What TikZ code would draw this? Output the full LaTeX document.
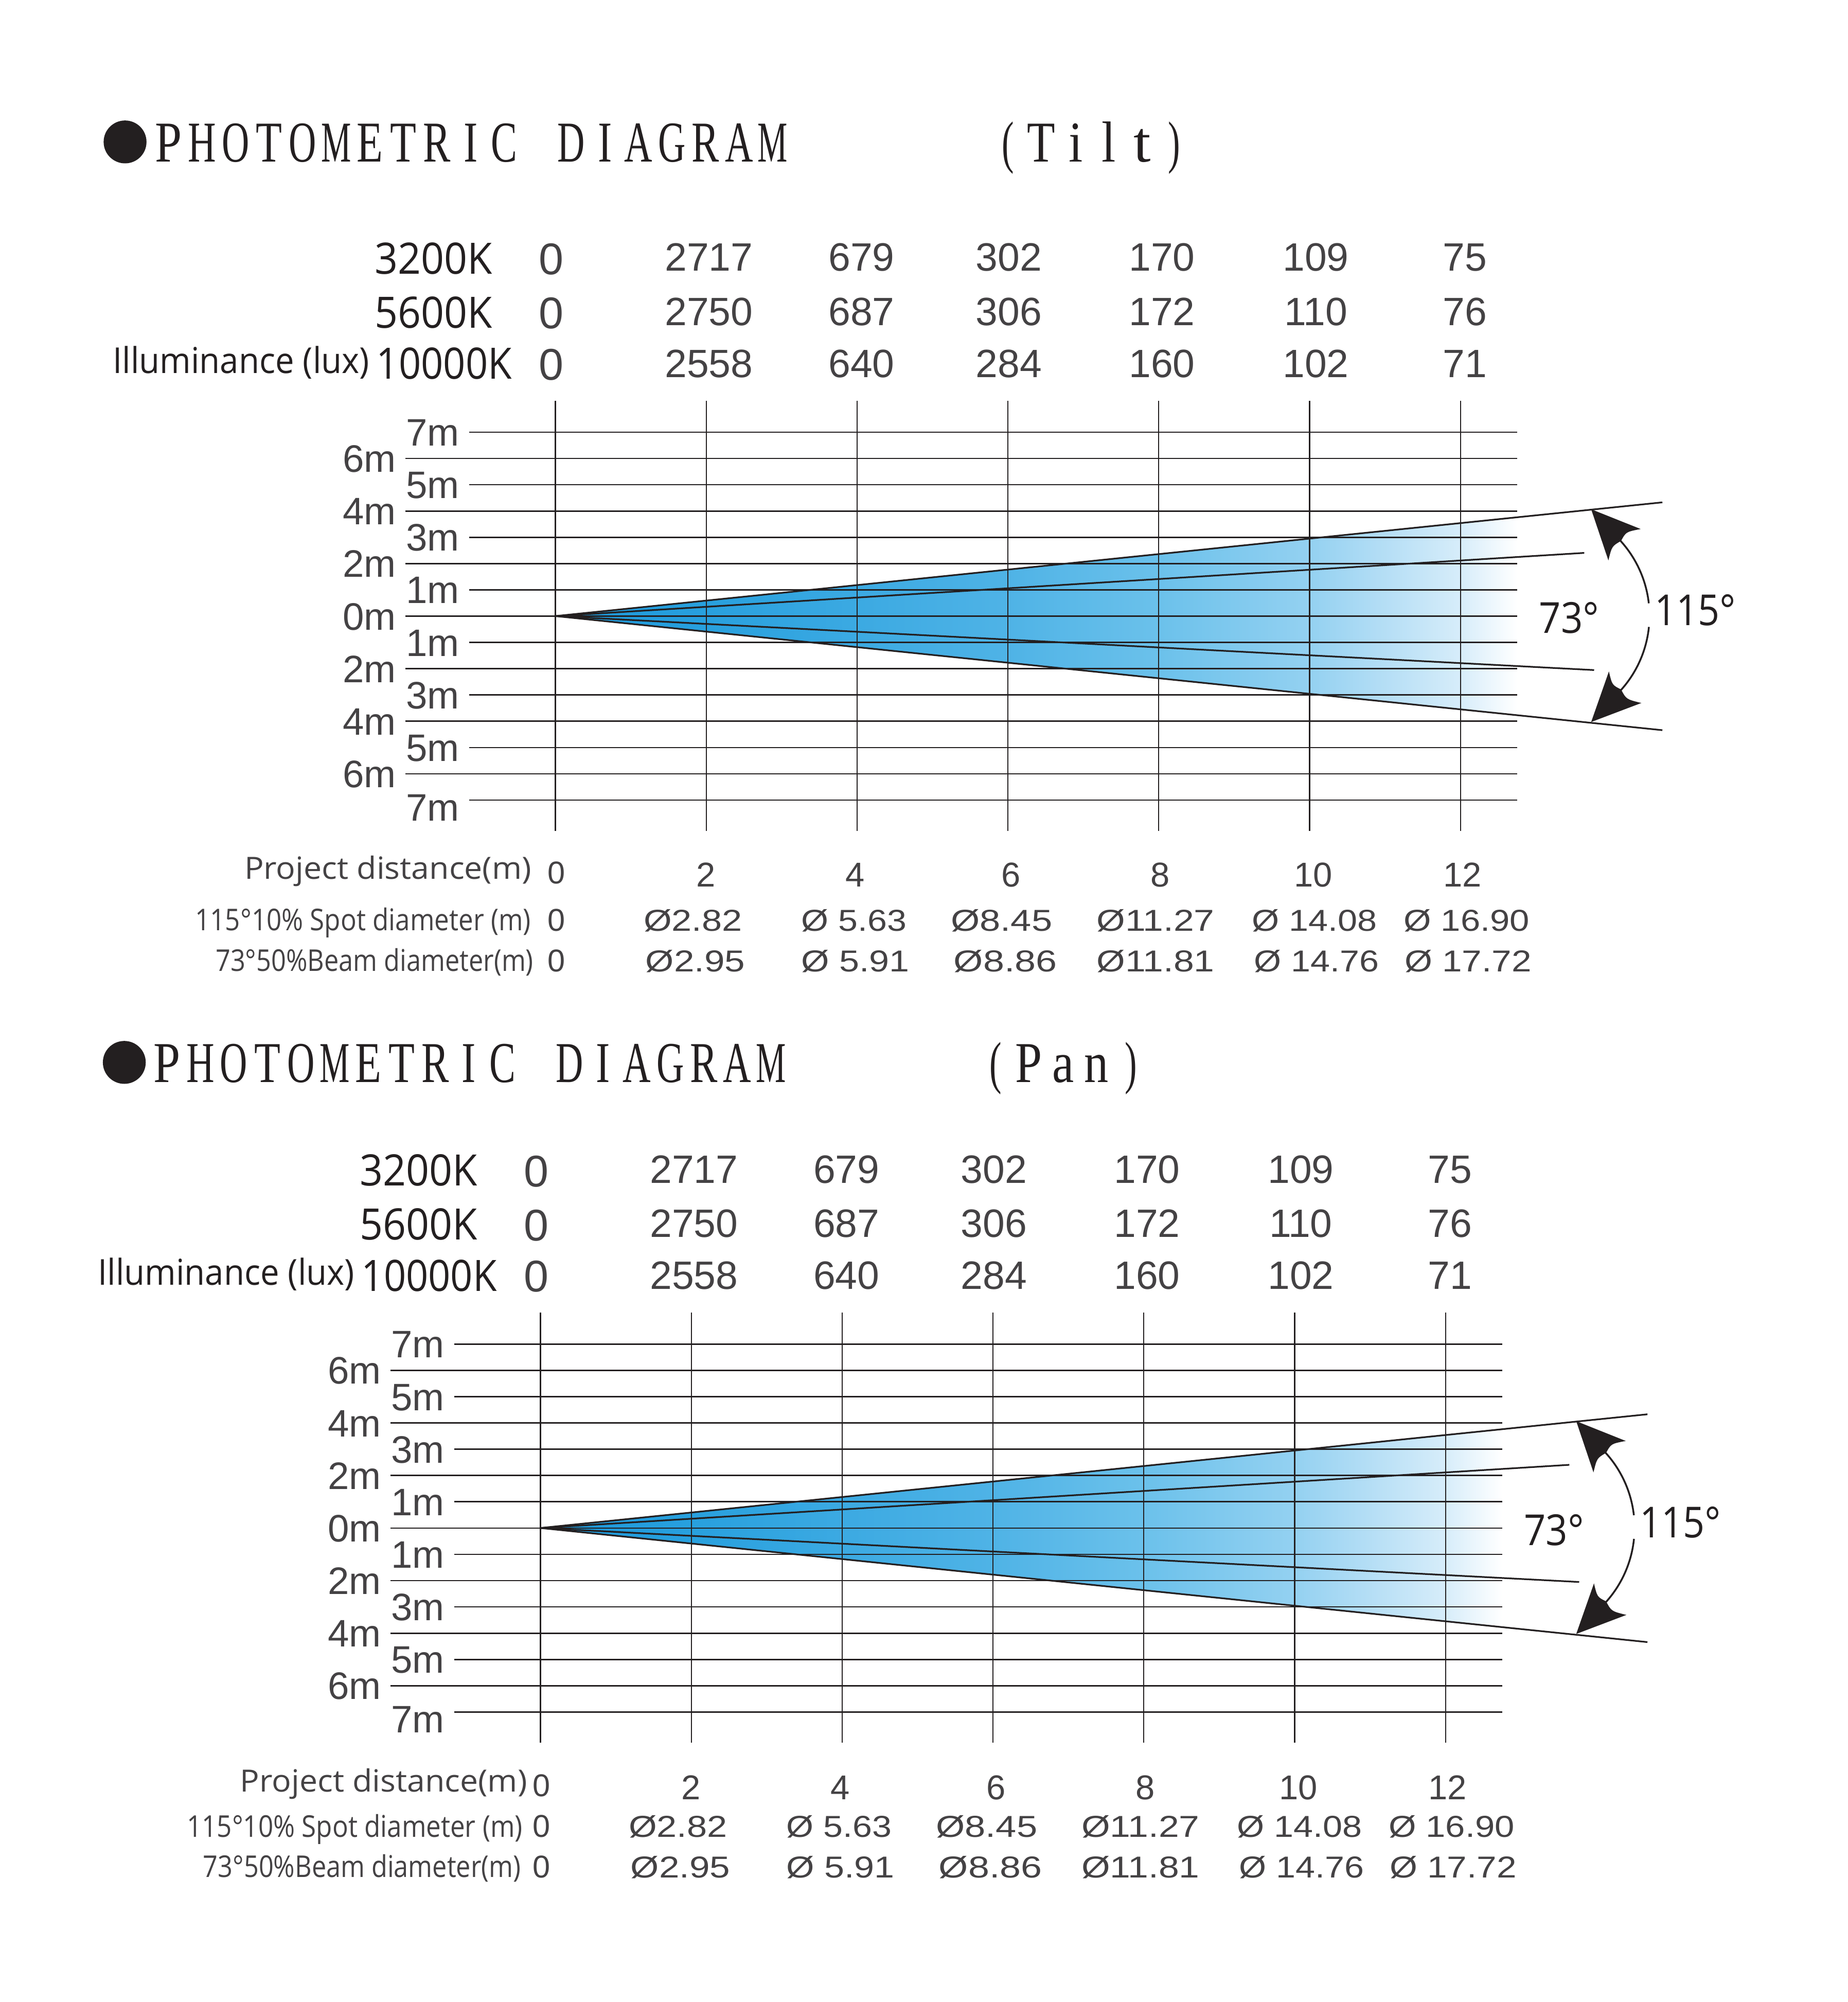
\documentclass[tikz,border=0pt]{standalone}
\usepackage{fontspec}
\usepackage{graphicx}
\setmainfont{Liberation Serif}
\newfontfamily\arialf{Liberation Sans}
\newfontfamily\opensf{Open Sans}
\definecolor{ink}{HTML}{231F20}
\definecolor{gtxt}{HTML}{444244}
\definecolor{bA}{HTML}{1B98DA}
\definecolor{bB}{HTML}{28A0DE}
\definecolor{bC}{HTML}{4FB3E6}
\definecolor{bD}{HTML}{6BC1EB}
\definecolor{bE}{HTML}{94D1F1}
\definecolor{bF}{HTML}{B2DDF5}
\definecolor{bG}{HTML}{D7EDFA}
\pgfdeclarehorizontalshading{beamshade}{100bp}{color(0bp)=(bA); color(25bp)=(bA); color(32.84bp)=(bB); color(48.54bp)=(bC); color(56.37bp)=(bD); color(64.26bp)=(bE); color(67.78bp)=(bF); color(72.09bp)=(bG); color(75bp)=(white); color(100bp)=(white)}
\newcommand\fw[3]{\resizebox{#1pt}{\height}{\fontsize{#2pt}{#2pt}\selectfont #3}}
\tikzset{
  lbl/.style={inner sep=0pt, outer sep=0pt, anchor=base west},
  mlab/.style={inner sep=0pt, outer sep=0pt, anchor=base east, text=gtxt, font=\arialf\fontsize{30pt}{30pt}\selectfont},
  num/.style={inner sep=0pt, outer sep=0pt, anchor=base, text=gtxt, font=\arialf\fontsize{31pt}{31pt}\selectfont},
  zero/.style={inner sep=0pt, outer sep=0pt, anchor=base, text=gtxt, font=\arialf\fontsize{34.8pt}{34.8pt}\selectfont},
  dnum/.style={inner sep=0pt, outer sep=0pt, anchor=base, text=gtxt, font=\arialf\fontsize{27pt}{27pt}\selectfont},
  szero/.style={inner sep=0pt, outer sep=0pt, anchor=base, text=gtxt, font=\arialf\fontsize{24.7pt}{24.7pt}\selectfont},
  tch/.style={inner sep=0pt, outer sep=0pt, anchor=base, text=ink, font=\fontsize{45.3pt}{45.3pt}\selectfont},
  hline/.style={draw=ink, line width=1.1pt},
  vline/.style={draw=ink, line width=0.9pt},
  beamline/.style={draw=ink, line width=1.3pt},
  arcline/.style={draw=ink, line width=1.4pt},
}
\newcommand\tcw[2]{\resizebox{#1pt}{\height}{#2}}
\newcommand\photoblock[3]{%
\begin{scope}[shift={(#1,#2)}]
  % beam fill
  \coordinate (#3-apex) at (435.2,482.7);
  \coordinate (#3-fu) at (1188.8,405.3);
  \coordinate (#3-fl) at (1188.8,560.4);
  \shade[shading=beamshade] (#3-apex) -- (#3-fu) -- (#3-fl) -- cycle;
  % grid
  \foreach \k in {0,2,...,14} \draw[hline] (367.5,338.6+20.593*\k) -- (1188.8,338.6+20.593*\k);
  \foreach \k in {1,3,...,13} \draw[hline] (317.5,338.6+20.593*\k) -- (1188.8,338.6+20.593*\k);
  \foreach \j in {0,...,6} \draw[vline] (435.2+118.2*\j,314) -- (435.2+118.2*\j,651);
  % axis labels
  \foreach \k/\t in {0/7,2/5,4/3,6/1,8/1,10/3,12/5} \node[mlab] (#3-in\k) at (359.9,338.6+20.593*\k+10.7) {\t m};
  \node[mlab] (#3-in14) at (359.9,626.9+5.5+10.7) {7m};
  \foreach \k/\t in {1/6,3/4,5/2,7/0,9/2,11/4,13/6} \node[mlab] (#3-out\k) at (310.2,338.6+20.593*\k+10.7) {\t m};
  % beam lines
  \coordinate (#3-ou) at (1302.6,393.6);
  \coordinate (#3-ol) at (1302.6,572.1);
  \coordinate (#3-iu) at (1241.4,433.2);
  \coordinate (#3-il) at (1249.1,525.0);
  \draw[beamline] (#3-apex) -- (#3-ou);
  \draw[beamline] (#3-apex) -- (#3-ol);
  \draw[beamline] (#3-apex) -- (#3-iu);
  \draw[beamline] (#3-apex) -- (#3-il);
  % angle arcs with arrowheads
  \coordinate (#3-ac) at (1205.4,482.4);
  \draw[arcline] ([shift={(-43:87.1)}]#3-ac) arc[start angle=-43, end angle=-6.4, radius=87.1];
  \draw[arcline] ([shift={(5.8:87.1)}]#3-ac) arc[start angle=5.8, end angle=43, radius=87.1];
  \fill[ink] (1246.8,399.0) -- (1285.6,414.5) .. controls (1274.1,416.7) .. (1270.2,423.8) .. controls (1263.0,428.0) .. (1260.3,439.1) -- cycle;
  \fill[ink] (1246.8,565.7) -- (1286.1,550.8) .. controls (1274.3,547.9) .. (1270.2,540.2) .. controls (1263.2,536.7) .. (1260.7,526.1) -- cycle;
  \node[lbl, text=ink] (#3-a73) at (1206,496.2) {\fw{47}{33.5}{\opensf 73°}};
  \node[lbl, text=ink] (#3-a115) at (1296.5,490.1) {\fw{63.5}{33.5}{\opensf 115°}};
  % illuminance table
  \node[lbl, text=ink] (#3-k32) at (293.5,214.5) {\fw{92}{33.9}{\opensf 3200K}};
  \node[lbl, text=ink] (#3-k56) at (293.5,256.8) {\fw{92}{33.9}{\opensf 5600K}};
  \node[lbl, text=ink] (#3-k100) at (295,297) {\fw{106}{33.9}{\opensf 10000K}};
  \node[lbl, text=ink] (#3-illu) at (88.5,292.3) {\fw{201}{28}{\opensf Illuminance (lux)}};
  \node[zero] (#3-z1) at (432,215.2) {0};
  \node[zero] (#3-z2) at (432,257.5) {0};
  \node[zero] (#3-z3) at (432,297.6) {0};
  \foreach \x/\a/\b/\c [count=\i] in {555.5/2717/2750/2558, 675/679/687/640, 790.5/302/306/284, 910.5/170/172/160, 1031/109/110/102, 1148/75/76/71} {
    \node[num] (#3-r1c\i) at (\x,212.3) {\a};
    \node[num] (#3-r2c\i) at (\x,254.8) {\b};
    \node[num] (#3-r3c\i) at (\x,295.5) {\c};
  }
\end{scope}}
\newcommand\bottomrows[8]{%
\begin{scope}[shift={(#1,#2)}]
  \node[lbl, text=gtxt] (#5-pd) at (#6,688.6) {\fw{225}{24}{\opensf Project distance(m)}};
  \node[szero] (#5-pd0) at (436.1,692.2) {0};
  \foreach \x/\t in {553/2, 670.2/4, 792.1/6, 909.3/8, 1028.9/10, 1146/12} \node[dnum] (#5-d\t) at (\x,694.6) {\t};
\end{scope}
\begin{scope}[shift={(#1,#3)}]
  \node[lbl, text=gtxt] (#5-sl) at (#7,729.2) {\fw{263}{23.5}{\opensf 115°10\% Spot diameter (m)}};
  \node[szero] (#5-s0) at (436.1,729.4) {0};
  \foreach \x/\w/\t [count=\i] in {504.4/77.2/Ø2.82, 627.9/82.4/Ø 5.63, 745.1/79.4/Ø8.45, 859.2/92.5/Ø11.27, 981/98/Ø 14.08, 1099.8/98.7/Ø 16.90}
    \node[lbl, text=gtxt] (#5-sv\i) at (\x,729.4) {\fw{\w}{23.7}{\arialf \t}};
\end{scope}
\begin{scope}[shift={(#1,#4)}]
  \node[lbl, text=gtxt] (#5-bl) at (#8,761) {\fw{249}{23.5}{\opensf 73°50\%Beam diameter(m)}};
  \node[szero] (#5-b0) at (436.1,761.4) {0};
  \foreach \x/\w/\t [count=\i] in {505.9/78/Ø2.95, 627.9/84.8/Ø 5.91, 747.4/80.9/Ø8.86, 859.2/92.5/Ø11.81, 982.6/97.9/Ø 14.76, 1100.6/99.4/Ø 17.72}
    \node[lbl, text=gtxt] (#5-bv\i) at (\x,761.4) {\fw{\w}{23.7}{\arialf \t}};
\end{scope}}
% title: monospaced serif capitals on a fixed pitch
\newcommand\titlerow[3]{% #1 first centre x, #2 baseline, #3 prefix
  \foreach \c/\w [count=\i from 0] in {P/21,H/22,O/21.5,T/20.5,O/21.5,M/23.5,E/20.5,T/20.5,R/21.5,I/11,C/20.5}
    \node[tch] (#3\i) at (#1+26.3*\i,#2) {\tcw{\w}{\c}};
  \foreach \c/\w [count=\i from 12] in {D/21.5,I/11,A/22,G/21.5,R/21.5,A/22,M/23.5}
    \node[tch] (#3\i) at (#1+26.3*\i,#2) {\tcw{\w}{\c}};
}
\begin{document}
\begin{tikzpicture}[x=1pt,y=-1pt]
\fill[white] (0,0) rectangle (1448,1568.6);
\useasboundingbox (0,0) rectangle (1448,1568.6);
% ---- Tilt title ----
\fill[ink] (98,111.2) circle[radius=16.8];
\titlerow{132.05}{126.6}{tt}
\foreach \x/\c/\w [count=\i] in {790/(/9.5, 816/T/22, 843/i/11, 869/l/11, 895/t/13.5, 920/)/9.5} \node[tch] (ts\i) at (\x,126.6) {\tcw{\w}{\c}};
\photoblock{0}{0}{t}
\bottomrows{0}{0}{0}{0}{t}{191.5}{153}{169}
% ---- Pan title ----
\fill[ink] (97.4,832.4) circle[radius=16.8];
\titlerow{130.65}{847.9}{pt}
\foreach \x/\c/\w [count=\i] in {780/(/9.5, 806/P/21, 833/a/17, 859/n/19, 886/)/9.5} \node[tch] (ps\i) at (\x,847.9) {\tcw{\w}{\c}};
\photoblock{-11.7}{714.5}{p}
\bottomrows{-11.7}{715.5}{710}{710}{p}{199.8}{158.2}{170.9}
\end{tikzpicture}
\end{document}
